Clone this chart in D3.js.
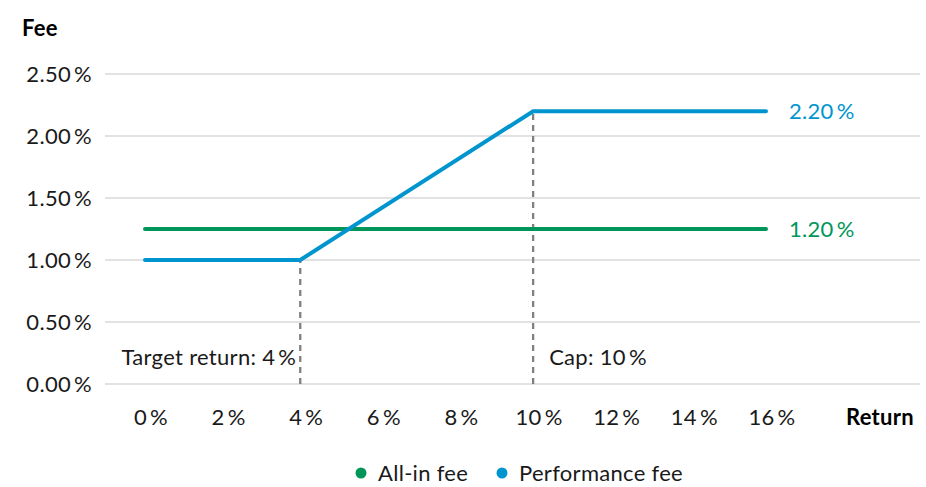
<!DOCTYPE html>
<html>
<head>
<meta charset="utf-8">
<script src="https://cdn.jsdelivr.net/npm/d3@7"></script>
<style>
  body { margin: 0; background: #fff; }
  text { font-family: Lato, "Open Sans", sans-serif; font-size: 22px; letter-spacing: 0.3px; }
</style>
</head>
<body>
<div id="chart"></div>
<script>
// data
const returns = [0, 4, 10, 16];
const performanceFee = [1.00, 1.00, 2.20, 2.20];
const allInFee = [1.25, 1.25, 1.25, 1.25];
const xTicks = [0, 2, 4, 6, 8, 10, 12, 14, 16];
const yTicks = [0, 0.5, 1.0, 1.5, 2.0, 2.5];
const markers = [
    { x: 4, y: 1.00, label: "Target return: 4\u2009%", side: "left" },
    { x: 10, y: 2.20, label: "Cap: 10\u2009%", side: "right" }
];
const endLabels = ["2.20\u2009%", "1.20\u2009%"];
const seriesNames = ["All-in fee", "Performance fee"];

const green = "#00965a";
const blue = "#0095cf";

const width = 926, height = 487;

const svg = d3.select("#chart")
    .append("svg")
    .attr("width", width)
    .attr("height", height);

const x = d3.scaleLinear().domain([0, 16]).range([145, 766]);
const y = d3.scaleLinear().domain([0, 2.5]).range([384, 74]);

// grid
svg.append("g")
    .selectAll("line")
    .data(yTicks)
    .enter()
    .append("line")
    .attr("x1", 105)
    .attr("x2", 920)
    .attr("y1", d => y(d))
    .attr("y2", d => y(d))
    .attr("stroke", "#d9d9d9")
    .attr("stroke-width", 1.3);

// y labels
svg.append("g")
    .selectAll("text")
    .data(yTicks)
    .enter()
    .append("text")
    .attr("x", 92)
    .attr("y", d => y(d))
    .attr("dy", "0.36em")
    .attr("text-anchor", "end")
    .attr("fill", "#1a1a1a")
    .text(d => d3.format(".2f")(d) + "\u2009%");

// x labels
svg.append("g")
    .selectAll("text")
    .data(xTicks)
    .enter()
    .append("text")
    .attr("x", d => x(d) + 6)
    .attr("y", 417)
    .attr("dy", "0.36em")
    .attr("text-anchor", "middle")
    .attr("fill", "#1a1a1a")
    .text(d => d + "\u2009%");

svg.append("text")
    .attr("x", 22)
    .attr("y", 28)
    .attr("dy", "0.36em")
    .style("font-weight", "bold")
    .text("Fee");

svg.append("text")
    .attr("x", 914)
    .attr("y", 417)
    .attr("dy", "0.36em")
    .attr("text-anchor", "end")
    .style("font-weight", "bold")
    .text("Return");

// dashed markers
svg.append("g")
    .selectAll("line")
    .data(markers)
    .enter()
    .append("line")
    .attr("x1", d => x(d.x))
    .attr("x2", d => x(d.x))
    .attr("y1", y(0))
    .attr("y2", d => y(d.y))
    .attr("stroke", "#808080")
    .attr("stroke-width", 2.3)
    .attr("stroke-dasharray", "6,5");

svg.append("g")
    .selectAll("text")
    .data(markers)
    .enter()
    .append("text")
    .attr("x", d => d.side === "left" ? x(d.x) - 4 : x(d.x) + 16)
    .attr("y", 357)
    .attr("dy", "0.36em")
    .attr("text-anchor", d => d.side === "left" ? "end" : "start")
    .attr("fill", "#1a1a1a")
    .text(d => d.label);

// lines
const line = d3.line()
    .x((d, i) => x(returns[i]))
    .y(d => y(d));

const series = [
    { values: allInFee, color: green },
    { values: performanceFee, color: blue }
];

svg.append("g")
    .selectAll("path")
    .data(series)
    .enter()
    .append("path")
    .attr("d", d => line(d.values))
    .attr("fill", "none")
    .attr("stroke", d => d.color)
    .attr("stroke-width", 4)
    .attr("stroke-linecap", "round");

// end labels
svg.append("g")
    .selectAll("text")
    .data(series)
    .enter()
    .append("text")
    .attr("x", 789)
    .attr("y", d => y(d.values[d.values.length - 1]))
    .attr("dy", "0.36em")
    .attr("fill", d => d.color)
    .text((d, i) => endLabels[1 - i]);

// legend
const legendX = [361, 502];
const legend = svg.append("g")
    .selectAll("g")
    .data(series)
    .enter()
    .append("g")
    .attr("transform", (d, i) => "translate(" + legendX[i] + ",473)");

legend.append("circle")
    .attr("r", 5.5)
    .attr("fill", d => d.color);

legend.append("text")
    .attr("x", 17)
    .attr("dy", "0.36em")
    .attr("fill", "#1a1a1a")
    .text((d, i) => seriesNames[i]);
</script>
</body>
</html>
